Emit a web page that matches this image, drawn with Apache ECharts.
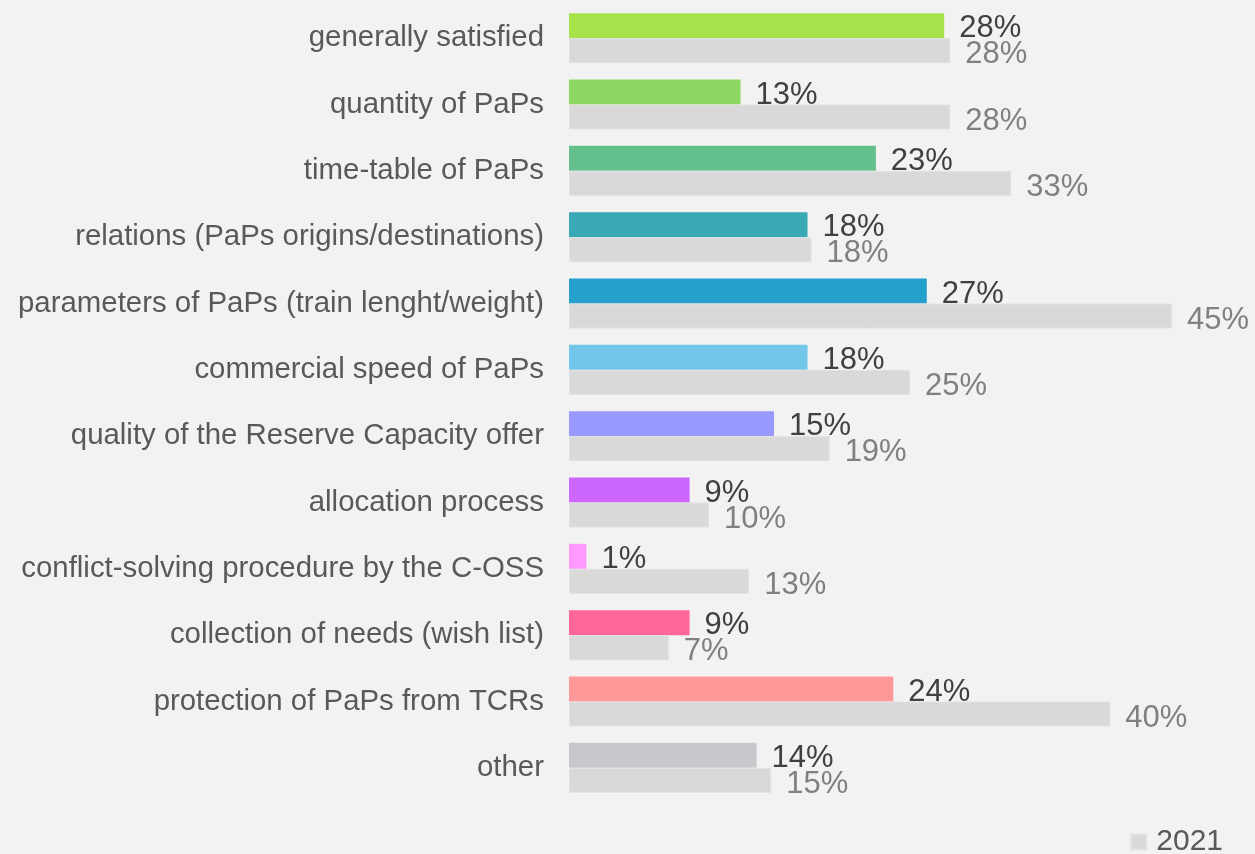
<!DOCTYPE html>
<html>
<head>
<meta charset="utf-8">
<script src="https://cdn.jsdelivr.net/npm/echarts@6/dist/echarts.min.js"></script>
<style>
  html, body { margin: 0; padding: 0; background: #f2f2f2; }
  #chart { width: 1255px; height: 854px; }
</style>
</head>
<body>
<div id="chart"></div>
<script>
// categories, top to bottom
var categories = [
    'generally satisfied',
    'quantity of PaPs',
    'time-table of PaPs',
    'relations (PaPs origins/destinations)',
    'parameters of PaPs (train lenght/weight)',
    'commercial speed of PaPs',
    'quality of the Reserve Capacity offer',
    'allocation process',
    'conflict-solving procedure by the C-OSS',
    'collection of needs (wish list)',
    'protection of PaPs from TCRs',
    'other'
];
// current year (coloured bars), in % - labels show rounded values
var currentValues = [28, 12.8, 22.9, 17.8, 26.7, 17.8, 15.3, 9, 1.3, 9, 24.2, 14];
// 2021 (grey bars), in %
var values2021 = [28.45, 28.45, 33, 18.1, 45, 25.45, 19.45, 10.45, 13.45, 7.45, 40.4, 15.1];
var barColors = [
    '#a6e34a', '#8dd862', '#63c08c', '#38a9b5', '#25a0cd', '#72c6ea',
    '#9a99ff', '#cc66ff', '#ff99ff', '#ff6699', '#ff9999', '#c8c8cc'
];

var font = 'Arial, "Liberation Sans", sans-serif';

function pct(p) {
    return Math.round(p.value) + '%';
}

var currentData = [];
for (var i = 0; i < currentValues.length; i++) {
    currentData.push({ value: currentValues[i], itemStyle: { color: barColors[i] } });
}

var option = {
    backgroundColor: '#f2f2f2',
    animation: false,
    grid: {
        left: 569,
        width: 670,
        top: 5,
        bottom: 53
    },
    legend: {
        data: ['2021'],
        right: 27,
        top: 822,
        itemWidth: 15,
        itemHeight: 15,
        icon: 'rect',
        textStyle: {
            fontFamily: font,
            fontSize: 30,
            color: '#595959',
            padding: [0, 0, 0, 5]
        }
    },
    xAxis: {
        type: 'value',
        min: 0,
        max: 50,
        show: false
    },
    yAxis: {
        type: 'category',
        inverse: true,
        data: categories,
        axisLine: { show: false },
        axisTick: { show: false },
        axisLabel: {
            margin: 25,
            fontFamily: font,
            fontSize: 29.4,
            color: '#595959',
            padding: [3, 0, 0, 0]
        }
    },
    series: [
        {
            name: 'current',
            type: 'bar',
            data: currentData,
            barWidth: 25,
            barGap: '0%',
            label: {
                show: true,
                position: 'right',
                distance: 15,
                offset: [0, 3],
                formatter: pct,
                fontFamily: font,
                fontSize: 31,
                color: '#404040'
            }
        },
        {
            name: '2021',
            type: 'bar',
            data: values2021,
            barWidth: 25,
            itemStyle: { color: '#d9d9d9', borderColor: '#e2e2e2', borderWidth: 1 },
            label: {
                show: true,
                position: 'right',
                distance: 15,
                offset: [0, 4],
                formatter: pct,
                fontFamily: font,
                fontSize: 31,
                color: '#808080'
            }
        }
    ]
};

var chart = echarts.init(document.getElementById('chart'));
chart.setOption(option);
</script>
</body>
</html>
